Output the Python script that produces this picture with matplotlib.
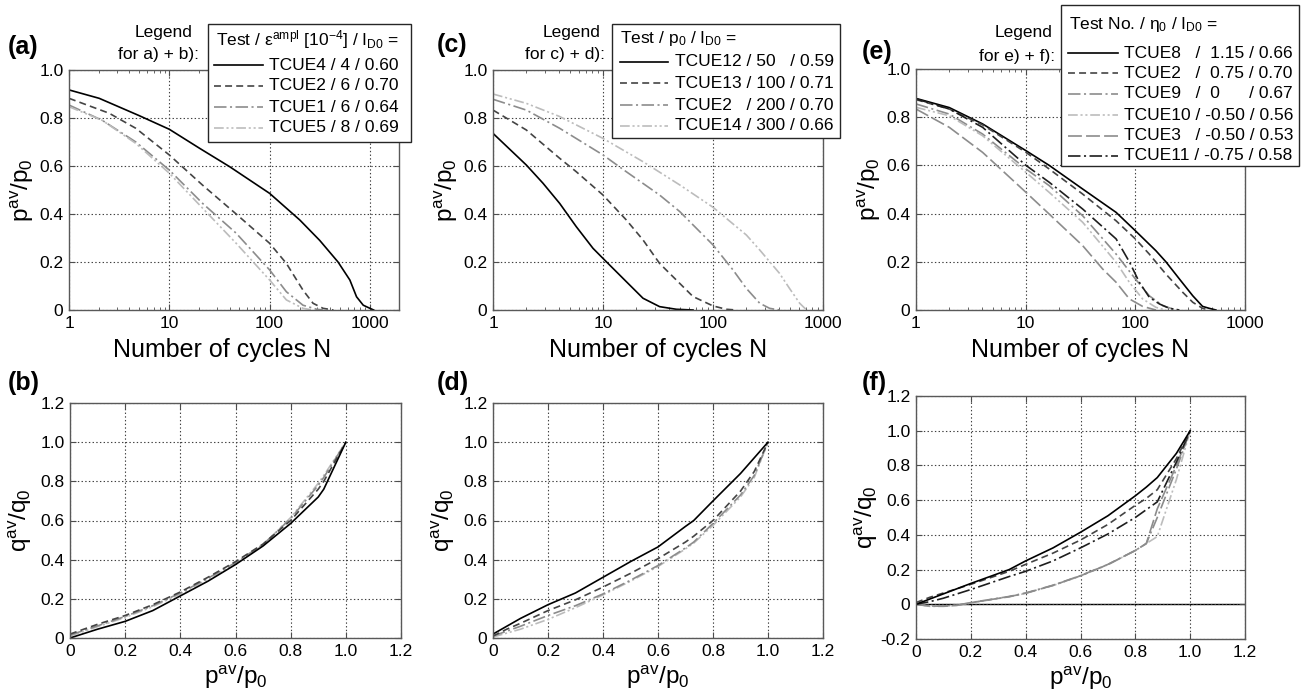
import matplotlib
matplotlib.use("Agg")
import matplotlib.pyplot as plt
from matplotlib.lines import Line2D
from matplotlib.patches import Rectangle
from matplotlib.ticker import FixedLocator, FuncFormatter, LogLocator, NullFormatter

plt.rcParams.update({
    "font.family": ["Liberation Sans", "DejaVu Sans"],
    "mathtext.fontset": "custom",
    "mathtext.rm": "Liberation Sans",
    "mathtext.it": "Liberation Sans:italic",
    "mathtext.default": "regular",
    "axes.unicode_minus": False,
    "lines.scale_dashes": False,
})

# ---------------- data: panel (a) ----------------
A_N_TCUE4 = [1, 2, 5, 10, 20, 40, 100, 200, 316, 481, 631, 736, 858, 1000, 1090]
A_P_TCUE4 = [0.917, 0.882, 0.81, 0.753, 0.674, 0.597, 0.486, 0.375, 0.29, 0.2, 0.125, 0.055, 0.02, 0.007, 0.0]
A_N_TCUE2 = [1, 2.51, 4.64, 10, 21.5, 46.4, 100, 147, 215, 271, 341, 433]
A_P_TCUE2 = [0.882, 0.82, 0.757, 0.646, 0.52, 0.40, 0.278, 0.194, 0.083, 0.028, 0.007, 0.0]
A_N_TCUE1 = [1, 2.15, 4.64, 10, 21.5, 46.4, 100, 147, 215, 295, 341]
A_P_TCUE1 = [0.854, 0.79, 0.70, 0.583, 0.444, 0.32, 0.167, 0.076, 0.02, 0.003, 0.0]
A_N_TCUE5 = [1, 2.15, 4.64, 10, 21.5, 46.4, 100, 147, 215, 271]
A_P_TCUE5 = [0.847, 0.79, 0.694, 0.57, 0.424, 0.278, 0.125, 0.042, 0.007, 0.0]

# ---------------- data: panel (b) ----------------
B_P = [0.0, 0.1, 0.2, 0.3, 0.4, 0.5, 0.6, 0.7, 0.8, 0.9, 0.92, 1.0]
B_Q_TCUE4 = [0.0, 0.045, 0.085, 0.14, 0.215, 0.29, 0.375, 0.47, 0.585, 0.72, 0.76, 1.0]
B_Q_TCUE2 = [0.02, 0.07, 0.115, 0.17, 0.235, 0.31, 0.39, 0.48, 0.6, 0.76, 0.8, 1.0]
B_Q_TCUE1 = [0.015, 0.062, 0.11, 0.165, 0.23, 0.305, 0.385, 0.478, 0.61, 0.78, 0.82, 1.0]
B_Q_TCUE5 = [0.01, 0.058, 0.105, 0.16, 0.225, 0.3, 0.38, 0.475, 0.615, 0.79, 0.83, 1.0]

# ---------------- data: panel (c) ----------------
C_N_TCUE12 = [1, 2.01, 2.85, 4.04, 5.72, 8.11, 10, 16.3, 23.1, 32.7, 46.4, 65.8]
C_P_TCUE12 = [0.736, 0.604, 0.528, 0.444, 0.347, 0.257, 0.215, 0.118, 0.049, 0.014, 0.003, 0.0]
C_N_TCUE13 = [1, 2.01, 4.04, 5.72, 10, 16.3, 23.1, 32.7, 46.4, 65.8, 100, 132, 163]
C_P_TCUE13 = [0.833, 0.75, 0.632, 0.576, 0.479, 0.375, 0.292, 0.194, 0.125, 0.056, 0.017, 0.003, 0.0]
C_N_TCUE2 = [1, 2.01, 4.04, 10, 16.3, 32.7, 49.9, 100, 152, 201, 266, 327, 402]
C_P_TCUE2 = [0.878, 0.833, 0.757, 0.646, 0.576, 0.479, 0.41, 0.271, 0.167, 0.09, 0.028, 0.007, 0.0]
C_N_TCUE14 = [1, 2.01, 4.04, 10, 23.1, 49.9, 100, 201, 266, 402, 496, 614, 684, 734]
C_P_TCUE14 = [0.9, 0.861, 0.806, 0.715, 0.618, 0.521, 0.428, 0.3125, 0.25, 0.153, 0.09, 0.028, 0.007, 0.0]

# ---------------- data: panel (d) ----------------
D_P = [0.0, 0.05, 0.1, 0.2, 0.3, 0.4, 0.5, 0.6, 0.7, 0.73, 0.8, 0.9, 0.95, 1.0]
D_Q_TCUE12 = [0.02, 0.06, 0.1, 0.17, 0.23, 0.31, 0.39, 0.465, 0.57, 0.6, 0.7, 0.84, 0.92, 1.0]
D_Q_TCUE13 = [0.01, 0.045, 0.075, 0.14, 0.195, 0.26, 0.33, 0.405, 0.49, 0.52, 0.6, 0.75, 0.85, 1.0]
D_Q_TCUE2 = [0.01, 0.035, 0.06, 0.115, 0.165, 0.225, 0.295, 0.37, 0.46, 0.49, 0.585, 0.73, 0.83, 1.0]
D_Q_TCUE14 = [0.005, 0.025, 0.045, 0.095, 0.155, 0.22, 0.29, 0.365, 0.455, 0.485, 0.575, 0.72, 0.82, 1.0]

# ---------------- data: panel (e) ----------------
E_N_TCUE8 = [1, 2.01, 4.05, 10.07, 16.4, 33.1, 66.8, 100, 154, 190, 252, 334, 410, 471, 543]
E_P_TCUE8 = [0.878, 0.84, 0.772, 0.661, 0.6, 0.502, 0.405, 0.329, 0.246, 0.2, 0.129, 0.059, 0.015, 0.007, 0.0]
E_N_TCUE2 = [1, 2.01, 4.05, 10.07, 16.4, 33.1, 66.8, 100, 134, 190, 271, 334, 410, 471]
E_P_TCUE2 = [0.873, 0.834, 0.768, 0.654, 0.585, 0.481, 0.37, 0.295, 0.232, 0.149, 0.073, 0.032, 0.007, 0.0]
E_N_TCUE9 = [1, 2.01, 4.05, 10.07, 16.4, 33.1, 66.8, 100, 134, 178, 235]
E_P_TCUE9 = [0.855, 0.813, 0.73, 0.585, 0.516, 0.391, 0.232, 0.129, 0.059, 0.018, 0.0]
E_N_TCUE10 = [1, 2.01, 4.05, 10.07, 16.4, 33.1, 66.8, 88.2, 116.5, 154, 190]
E_P_TCUE10 = [0.841, 0.806, 0.723, 0.571, 0.488, 0.364, 0.198, 0.115, 0.046, 0.011, 0.0]
E_N_TCUE3 = [1, 2.01, 4.05, 10.07, 16.4, 33.1, 50.4, 66.8, 88.2, 116.5, 154]
E_P_TCUE3 = [0.834, 0.758, 0.654, 0.488, 0.398, 0.267, 0.17, 0.115, 0.046, 0.015, 0.0]
E_N_TCUE11 = [1, 2.01, 4.05, 10.07, 16.4, 33.1, 66.8, 88.2, 108.8, 134, 166, 204, 252]
E_P_TCUE11 = [0.876, 0.834, 0.758, 0.6, 0.53, 0.419, 0.295, 0.2, 0.115, 0.053, 0.025, 0.007, 0.0]

# ---------------- data: panel (f) ----------------
F_P = [0.0, 0.05, 0.1, 0.15, 0.2, 0.34, 0.4, 0.5, 0.6, 0.7, 0.8, 0.84, 0.88, 0.95, 1.0]
F_Q_TCUE8 = [0.0, 0.03, 0.06, 0.09, 0.12, 0.2, 0.25, 0.325, 0.415, 0.51, 0.625, 0.675, 0.73, 0.87, 1.0]
F_Q_TCUE2 = [0.01, 0.04, 0.065, 0.09, 0.115, 0.19, 0.23, 0.295, 0.37, 0.46, 0.57, 0.61, 0.66, 0.84, 1.0]
F_Q_TCUE11 = [0.0, 0.015, 0.035, 0.06, 0.085, 0.16, 0.19, 0.25, 0.325, 0.405, 0.5, 0.545, 0.59, 0.82, 1.0]
F_Q_TCUE9 = [0.0, -0.01, -0.01, -0.005, 0.01, 0.045, 0.065, 0.11, 0.165, 0.23, 0.31, 0.35, 0.5, 0.78, 1.0]
F_Q_TCUE10 = [0.0, -0.012, -0.012, -0.006, 0.008, 0.043, 0.063, 0.108, 0.163, 0.228, 0.31, 0.35, 0.39, 0.72, 1.0]
F_Q_TCUE3 = [0.0, -0.01, -0.011, -0.006, 0.009, 0.044, 0.064, 0.109, 0.164, 0.229, 0.31, 0.35, 0.55, 0.8, 1.0]

LOG_TICKS = [1, 10, 100, 1000]
LOG_LABELS = ["1", "10", "100", "1000"]

# ---------------- styles ----------------
S_SOLID = dict(color="black", linestyle="-")
S_DASH = dict(color="#444444", linestyle=(0, (5, 3)))
S_DASHDOT = dict(color="#8c8c8c", linestyle=(0, (9, 2.5, 1.5, 2.5)))
S_DDOT = dict(color="#bcbcbc", linestyle=(0, (7, 2, 1.5, 2, 1.5, 2)))
S_LONG = dict(color="#8c8c8c", linestyle=(0, (10, 3)))
S_DASHDOT_K = dict(color="#1e1e1e", linestyle=(0, (9, 2.5, 1.5, 2.5)))
LW = 1.2

W, H = 1302, 697
fig = plt.figure(figsize=(W / 100, H / 100), dpi=100)


def fx(x):
    return x / W


def fy(y):
    return 1 - y / H


def add_axes(x0, y0, x1, y1):
    return fig.add_axes([fx(x0), fy(y1), fx(x1) - fx(x0), fy(y0) - fy(y1)])


def num_fmt(v, _pos):
    if abs(v) < 1e-9:
        return "0"
    return f"{v:.1f}"


def style(ax):
    ax.tick_params(direction="in", which="both", top=True, right=True,
                   labelsize=12.5, color="0.3", pad=4)
    ax.tick_params(which="major", length=4)
    ax.tick_params(which="minor", length=2.5)
    ax.grid(True, which="major", linestyle=":", color="0.25", linewidth=0.8)
    for sp in ax.spines.values():
        sp.set_color("0.35")
        sp.set_linewidth(1.0)


def top_panel(ax, xmax, label_x=0.5):
    ax.set_xscale("log")
    ax.set_xlim(1, xmax)
    ax.set_ylim(0, 1.0)
    ax.xaxis.set_major_locator(FixedLocator(LOG_TICKS))
    ax.xaxis.set_major_formatter(FuncFormatter(
        lambda v, p: LOG_LABELS[LOG_TICKS.index(int(round(v)))] if int(round(v)) in LOG_TICKS else ""))
    ax.xaxis.set_minor_locator(LogLocator(base=10, subs=range(2, 10)))
    ax.xaxis.set_minor_formatter(NullFormatter())
    ax.yaxis.set_major_locator(FixedLocator([0, 0.2, 0.4, 0.6, 0.8, 1.0]))
    ax.yaxis.set_major_formatter(FuncFormatter(num_fmt))
    style(ax)
    ax.set_xlabel("Number of cycles N", fontsize=18, va="center")
    ax.xaxis.set_label_coords(label_x, -40 / 240)
    ax.set_ylabel("p$^{av}$/p$_0$", fontsize=17.5)
    ax.yaxis.set_label_coords(-0.10, 0.5)


def bottom_panel(ax, ymin, height_px):
    ax.set_xlim(0, 1.2)
    ax.set_ylim(ymin, 1.2)
    ax.xaxis.set_major_locator(FixedLocator([0, 0.2, 0.4, 0.6, 0.8, 1.0, 1.2]))
    ticks = [v / 10 for v in range(int(round(ymin * 10)), 13, 2)]
    ax.yaxis.set_major_locator(FixedLocator(ticks))
    ax.xaxis.set_major_formatter(FuncFormatter(num_fmt))
    ax.yaxis.set_major_formatter(FuncFormatter(num_fmt))
    style(ax)
    ax.set_xlabel("p$^{av}$/p$_0$", fontsize=17.5, va="center")
    ax.xaxis.set_label_coords(0.5, -39 / height_px)
    ax.set_ylabel("q$^{av}$/q$_0$", fontsize=17.5)
    ax.yaxis.set_label_coords(-0.11, 0.5)


def legend(box, title, title_y, labels, styles, ys, hx0, hx1, tx):
    x0, y0, x1, y1 = box
    fig.patches.append(Rectangle((fx(x0), fy(y1)), fx(x1) - fx(x0), fy(y0) - fy(y1),
                                 transform=fig.transFigure, facecolor="white",
                                 edgecolor="0.15", linewidth=1.0, zorder=5))
    fig.text(fx(x0 + 8), fy(title_y), title, ha="left", va="center", fontsize=12.5, zorder=6)
    for lab, st, y in zip(labels, styles, ys):
        fig.add_artist(Line2D([fx(hx0), fx(hx1)], [fy(y), fy(y)], transform=fig.transFigure,
                              linewidth=LW, zorder=6, **st))
        fig.text(fx(tx), fy(y), lab, ha="left", va="center", fontsize=12.5, zorder=6)


# ---------------- (a) ----------------
ax_a = add_axes(69, 70, 399, 310)
top_panel(ax_a, 1950, label_x=(222 - 69) / 330)
ax_a.plot(A_N_TCUE4, A_P_TCUE4, lw=LW, **S_SOLID)
ax_a.plot(A_N_TCUE2, A_P_TCUE2, lw=LW, **S_DASH)
ax_a.plot(A_N_TCUE1, A_P_TCUE1, lw=LW, **S_DASHDOT)
ax_a.plot(A_N_TCUE5, A_P_TCUE5, lw=LW, **S_DDOT)

# ---------------- (b) ----------------
ax_b = add_axes(70, 403, 401, 638)
bottom_panel(ax_b, 0.0, 235)
ax_b.plot(B_P, B_Q_TCUE5, lw=LW, **S_DDOT)
ax_b.plot(B_P, B_Q_TCUE1, lw=LW, **S_DASHDOT)
ax_b.plot(B_P, B_Q_TCUE2, lw=LW, **S_DASH)
ax_b.plot(B_P, B_Q_TCUE4, lw=LW, **S_SOLID)

# ---------------- (c) ----------------
ax_c = add_axes(493, 70, 823, 310)
top_panel(ax_c, 1000)
ax_c.plot(C_N_TCUE12, C_P_TCUE12, lw=LW, **S_SOLID)
ax_c.plot(C_N_TCUE13, C_P_TCUE13, lw=LW, **S_DASH)
ax_c.plot(C_N_TCUE2, C_P_TCUE2, lw=LW, **S_DASHDOT)
ax_c.plot(C_N_TCUE14, C_P_TCUE14, lw=LW, **S_DDOT)

# ---------------- (d) ----------------
ax_d = add_axes(493, 403, 823, 638)
bottom_panel(ax_d, 0.0, 235)
ax_d.plot(D_P, D_Q_TCUE14, lw=LW, **S_DDOT)
ax_d.plot(D_P, D_Q_TCUE2, lw=LW, **S_DASHDOT)
ax_d.plot(D_P, D_Q_TCUE13, lw=LW, **S_DASH)
ax_d.plot(D_P, D_Q_TCUE12, lw=LW, **S_SOLID)

# ---------------- (e) ----------------
ax_e = add_axes(916, 69, 1245, 310)
top_panel(ax_e, 1000)
ax_e.plot(E_N_TCUE8, E_P_TCUE8, lw=LW, **S_SOLID)
ax_e.plot(E_N_TCUE2, E_P_TCUE2, lw=LW, **S_DASH)
ax_e.plot(E_N_TCUE9, E_P_TCUE9, lw=LW, **S_DASHDOT)
ax_e.plot(E_N_TCUE10, E_P_TCUE10, lw=LW, **S_DDOT)
ax_e.plot(E_N_TCUE3, E_P_TCUE3, lw=LW, **S_LONG)
ax_e.plot(E_N_TCUE11, E_P_TCUE11, lw=LW, **S_DASHDOT_K)

# ---------------- (f) ----------------
ax_f = add_axes(916, 396, 1245, 639)
bottom_panel(ax_f, -0.2, 243)
ax_f.axhline(0, color="black", lw=1.0, zorder=1.5)
ax_f.plot(F_P, F_Q_TCUE10, lw=LW, **S_DDOT)
ax_f.plot(F_P, F_Q_TCUE9, lw=LW, **S_DASHDOT)
ax_f.plot(F_P, F_Q_TCUE3, lw=LW, **S_LONG)
ax_f.plot(F_P, F_Q_TCUE11, lw=LW, **S_DASHDOT_K)
ax_f.plot(F_P, F_Q_TCUE2, lw=LW, **S_DASH)
ax_f.plot(F_P, F_Q_TCUE8, lw=LW, **S_SOLID)

# ---------------- panel letters ----------------
for lab, x, y in [("(a)", 8, 47), ("(c)", 437, 45), ("(e)", 862, 52),
                  ("(b)", 8, 383), ("(d)", 437, 383), ("(f)", 862, 383)]:
    fig.text(fx(x), fy(y), lab, ha="left", va="center", fontsize=18, fontweight="bold")

# ---------------- legends ----------------
for txt, xr, y in [("Legend", 193, 33), ("for a) + b):", 199, 55),
                   ("Legend", 600, 33), ("for c) + d):", 605, 55),
                   ("Legend", 1053, 33), ("for e) + f):", 1055, 56)]:
    fig.text(fx(xr), fy(y), txt, ha="right", va="center", fontsize=12.5)

legend((208, 24, 411, 142),
       "Test / ε$^{ampl}$ [10$^{-4}$] / I$_{D0}$ =", 40,
       ["TCUE4 / 4 / 0.60", "TCUE2 / 6 / 0.70", "TCUE1 / 6 / 0.64", "TCUE5 / 8 / 0.69"],
       [S_SOLID, S_DASH, S_DASHDOT, S_DDOT],
       [65, 86, 107, 128], 214, 263, 269)

legend((612, 24, 840, 138),
       "Test / p$_0$ / I$_{D0}$ =", 38,
       ["TCUE12 / 50   / 0.59", "TCUE13 / 100 / 0.71", "TCUE2   / 200 / 0.70", "TCUE14 / 300 / 0.66"],
       [S_SOLID, S_DASH, S_DASHDOT, S_DDOT],
       [62, 83, 105, 126], 620, 668, 675)

legend((1061, 5, 1299, 166),
       "Test No. / η$_0$ / I$_{D0}$ =", 25,
       ["TCUE8   /  1.15 / 0.66", "TCUE2   /  0.75 / 0.70", "TCUE9   /  0      / 0.67",
        "TCUE10 / -0.50 / 0.56", "TCUE3   / -0.50 / 0.53", "TCUE11 / -0.75 / 0.58"],
       [S_SOLID, S_DASH, S_DASHDOT, S_DDOT, S_LONG, S_DASHDOT_K],
       [53, 73, 94, 115, 136, 156], 1068, 1118, 1124)

fig.savefig("out.png", dpi=100)
